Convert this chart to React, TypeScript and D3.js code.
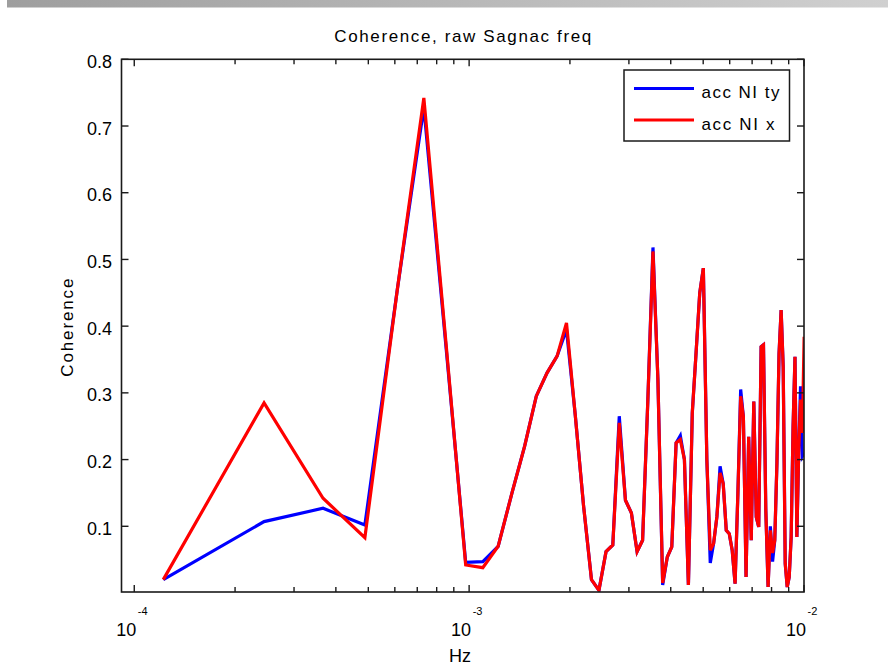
import React from "react";
import * as d3 from "d3";

// frequency bins (bin index * BIN_HZ = frequency in Hz)
const BIN_HZ = 1 / 8192;
const bins = [
  1, 2, 3, 4, 5, 6, 7, 8, 9, 10, 11, 12, 13, 14, 15, 16, 17, 18, 19, 20,
  21, 22, 23, 24, 25, 26, 27, 28, 29, 30, 31, 32, 33, 34, 35, 36, 37, 38, 39, 40,
  41, 42, 43, 44, 45, 46, 47, 48, 49, 50, 51, 52, 53, 54, 55, 56, 57, 58, 59, 60,
  61, 62, 63, 64, 65, 66, 67, 68, 69, 70, 71, 72, 73, 74, 75, 76, 77, 78, 79, 80,
  81, 82,
];

const accNIty = [
  0.020, 0.107, 0.127, 0.102, 0.455, 0.728, 0.365, 0.046, 0.047, 0.070,
  0.150, 0.220, 0.295, 0.330, 0.355, 0.395, 0.266, 0.130, 0.020, 0.004,
  0.062, 0.072, 0.265, 0.139, 0.120, 0.062, 0.079, 0.290, 0.518, 0.320,
  0.012, 0.054, 0.069, 0.225, 0.236, 0.200, 0.012, 0.270, 0.360, 0.450,
  0.487, 0.200, 0.045, 0.074, 0.114, 0.190, 0.164, 0.094, 0.089, 0.064,
  0.014, 0.150, 0.305, 0.264, 0.024, 0.234, 0.079, 0.287, 0.114, 0.099,
  0.369, 0.372, 0.124, 0.009, 0.100, 0.047, 0.079, 0.194, 0.359, 0.424,
  0.339, 0.044, 0.009, 0.024, 0.084, 0.250, 0.354, 0.084, 0.214, 0.310,
  0.205, 0.210,
];

const accNIx = [
  0.020, 0.285, 0.142, 0.083, 0.455, 0.742, 0.370, 0.042, 0.038, 0.070,
  0.150, 0.220, 0.295, 0.330, 0.355, 0.405, 0.266, 0.130, 0.020, 0.004,
  0.062, 0.072, 0.255, 0.139, 0.120, 0.062, 0.079, 0.290, 0.512, 0.320,
  0.015, 0.054, 0.069, 0.225, 0.230, 0.200, 0.012, 0.270, 0.360, 0.450,
  0.487, 0.200, 0.064, 0.074, 0.114, 0.180, 0.164, 0.094, 0.089, 0.064,
  0.014, 0.150, 0.295, 0.264, 0.024, 0.234, 0.079, 0.287, 0.114, 0.099,
  0.369, 0.372, 0.124, 0.009, 0.094, 0.060, 0.079, 0.194, 0.359, 0.424,
  0.339, 0.044, 0.009, 0.024, 0.084, 0.250, 0.354, 0.084, 0.214, 0.290,
  0.240, 0.384,
];

const yTicks = [0.1, 0.2, 0.3, 0.4, 0.5, 0.6, 0.7, 0.8];
const yTickLabels = ["0.1", "0.2", "0.3", "0.4", "0.5", "0.6", "0.7", "0.8"];
const xMajor = [1e-4, 1e-3, 1e-2];
const xMajorExp = ["-4", "-3", "-2"];
const xMinor = [
  2e-4, 3e-4, 4e-4, 5e-4, 6e-4, 7e-4, 8e-4, 9e-4,
  2e-3, 3e-3, 4e-3, 5e-3, 6e-3, 7e-3, 8e-3, 9e-3,
];

const seriesNames = ["acc NI ty", "acc NI x"];
const seriesColors = ["#0000ff", "#ff0000"];

const FONT = "'Liberation Sans', Arial, Helvetica, sans-serif";

export default function App() {
  const W = 888;
  const H = 668;
  const L = 121.5, R = 804, T = 59.3, B = 592;

  const x = d3.scaleLog().domain([9.16e-5, 1e-2]).range([L, R]);
  const y = d3.scaleLinear().domain([0.0015, 0.8]).range([B, T]);

  const line = d3
    .line<number>()
    .x((_, i) => x(bins[i] * BIN_HZ))
    .y((d) => y(d));

  const axisColor = "#1a1a1a";
  const majorLen = 7;
  const minorLen = 5;

  return (
    <svg
      width={W}
      height={H}
      style={{ position: "absolute", left: 0, top: 0, background: "#fff" }}
      fontFamily={FONT}
    >
      <defs>
        <linearGradient id="topbar" x1="0" x2="1" y1="0" y2="0">
          <stop offset="0" stopColor="#9e9e9e" />
          <stop offset="1" stopColor="#d0d0d0" />
        </linearGradient>
        <clipPath id="plotclip">
          <rect x={L} y={T} width={R - L} height={B - T} />
        </clipPath>
      </defs>
      <rect x={0} y={0} width={W} height={H} fill="#fff" />
      <rect x={7} y={0} width={W - 7} height={7.5} fill="url(#topbar)" />

      {/* title */}
      <text
        x={(L + R) / 2}
        y={42}
        fontSize={17}
        textAnchor="middle"
        textLength={257}
        lengthAdjust="spacing"
        fill="#000"
      >
        Coherence, raw Sagnac freq
      </text>

      {/* series */}
      <g clipPath="url(#plotclip)" fill="none" strokeWidth={3.2}>
        <path d={line(accNIty) || ""} stroke={seriesColors[0]} />
        <path d={line(accNIx) || ""} stroke={seriesColors[1]} />
      </g>

      {/* axes box */}
      <rect
        x={L}
        y={T}
        width={R - L}
        height={B - T}
        fill="none"
        stroke={axisColor}
        strokeWidth={1.6}
      />

      {/* y ticks */}
      {yTicks.map((v, i) => (
        <g key={"yt" + i}>
          <line x1={L} x2={L + majorLen} y1={y(v)} y2={y(v)} stroke={axisColor} strokeWidth={1.4} />
          <line x1={R} x2={R - majorLen} y1={y(v)} y2={y(v)} stroke={axisColor} strokeWidth={1.4} />
          <text x={112} y={y(v) + 8.5} fontSize={18} textAnchor="end" fill="#000">
            {yTickLabels[i]}
          </text>
        </g>
      ))}

      {/* x major ticks */}
      {xMajor.map((v, i) => (
        <g key={"xm" + i}>
          <line x1={x(v)} x2={x(v)} y1={B} y2={B - majorLen} stroke={axisColor} strokeWidth={1.4} />
          <line x1={x(v)} x2={x(v)} y1={T} y2={T + majorLen} stroke={axisColor} strokeWidth={1.4} />
          <text x={x(v) + 2} y={636} fontSize={18} textAnchor="end" fill="#000">
            10
          </text>
          <text x={x(v) + 3.5} y={615} fontSize={11} textAnchor="start" fill="#000">
            {xMajorExp[i]}
          </text>
        </g>
      ))}
      {xMinor.map((v, i) => (
        <g key={"xn" + i}>
          <line x1={x(v)} x2={x(v)} y1={B} y2={B - minorLen} stroke={axisColor} strokeWidth={1.4} />
          <line x1={x(v)} x2={x(v)} y1={T} y2={T + minorLen} stroke={axisColor} strokeWidth={1.4} />
        </g>
      ))}

      {/* axis labels */}
      <text x={460} y={662} fontSize={18} textAnchor="middle" fill="#000">
        Hz
      </text>
      <text
        transform={`translate(73, ${(T + B) / 2 + 2}) rotate(-90)`}
        fontSize={17}
        textAnchor="middle"
        textLength={98}
        lengthAdjust="spacing"
        fill="#000"
      >
        Coherence
      </text>

      {/* legend */}
      <g>
        <rect x={624} y={70} width={165.5} height={71} fill="#fff" stroke={axisColor} strokeWidth={1.5} />
        {seriesNames.map((name, i) => (
          <g key={"lg" + i}>
            <line
              x1={634}
              x2={694}
              y1={88.5 + i * 31.5}
              y2={88.5 + i * 31.5}
              stroke={seriesColors[i]}
              strokeWidth={3.2}
            />
            <text
              x={701.5}
              y={98 + i * 32}
              fontSize={17}
              textLength={i === 0 ? 78 : 73}
              lengthAdjust="spacing"
              fill="#000"
            >
              {name}
            </text>
          </g>
        ))}
      </g>
    </svg>
  );
}
